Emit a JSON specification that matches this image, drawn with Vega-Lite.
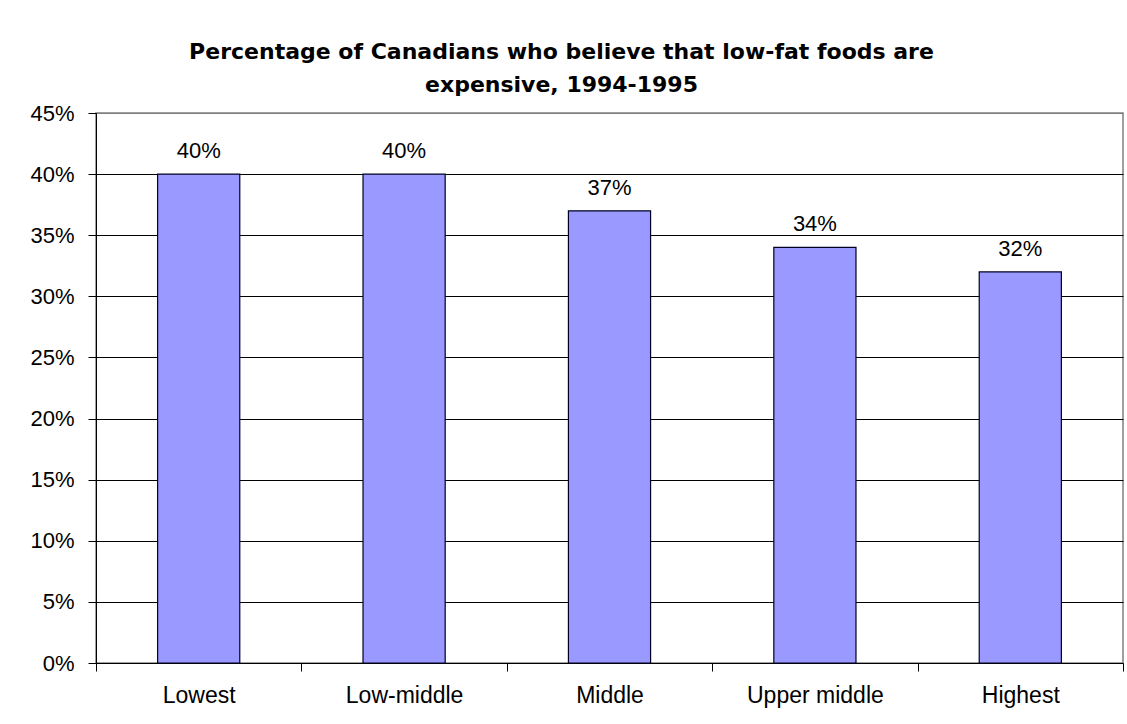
{
  "$schema": "https://vega.github.io/schema/vega-lite/v6.json",
  "autosize": "none",
  "width": 1027,
  "height": 550,
  "padding": {"left": 96, "top": 113, "right": 4, "bottom": 61},
  "background": "white",
  "title": {
    "text": ["Percentage of Canadians who believe that low-fat foods are", "expensive, 1994-1995"],
    "font": "DejaVu Sans",
    "fontSize": 22,
    "fontWeight": "bold",
    "color": "black",
    "anchor": "middle",
    "frame": "group",
    "dx": -48,
    "offset": 5,
    "lineHeight": 33
  },
  "data": {
    "values": [
      {"group": "Lowest", "pct": 0.40},
      {"group": "Low-middle", "pct": 0.40},
      {"group": "Middle", "pct": 0.37},
      {"group": "Upper middle", "pct": 0.34},
      {"group": "Highest", "pct": 0.32}
    ]
  },
  "encoding": {
    "x": {
      "field": "group",
      "type": "nominal",
      "sort": null,
      "scale": {"paddingInner": 0, "paddingOuter": 0},
      "axis": {
        "title": null,
        "labelAngle": 0,
        "tickBand": "extent",
        "labelFont": "Liberation Sans",
        "labelFontSize": 23,
        "labelColor": "black",
        "labelPadding": 13,
        "tickSize": 8,
        "tickColor": "black",
        "domainColor": "black",
        "grid": false
      }
    },
    "y": {
      "field": "pct",
      "type": "quantitative",
      "scale": {"domain": [0, 0.45], "nice": false},
      "axis": {
        "title": null,
        "format": ".0%",
        "values": [0, 0.05, 0.1, 0.15, 0.2, 0.25, 0.3, 0.35, 0.4, 0.45],
        "labelFont": "Liberation Sans",
        "labelFontSize": 22,
        "labelColor": "black",
        "labelPadding": 14,
        "tickSize": 8,
        "tickColor": "black",
        "domainColor": "black",
        "grid": true,
        "gridColor": {"condition": {"test": "datum.value >= 0.45", "value": "#808080"}, "value": "black"},
        "gridOpacity": 1
      }
    }
  },
  "layer": [
    {
      "mark": {"type": "bar", "width": {"band": 0.4}, "fill": "#9999FF", "stroke": "#000022", "strokeWidth": 1.2}
    },
    {
      "mark": {"type": "text", "baseline": "alphabetic", "dy": -16, "font": "Liberation Sans", "fontSize": 22, "color": "black"},
      "encoding": {"text": {"field": "pct", "type": "quantitative", "format": ".0%"}}
    }
  ],
  "config": {
    "view": {"stroke": "#808080", "strokeWidth": 1.5}
  }
}
